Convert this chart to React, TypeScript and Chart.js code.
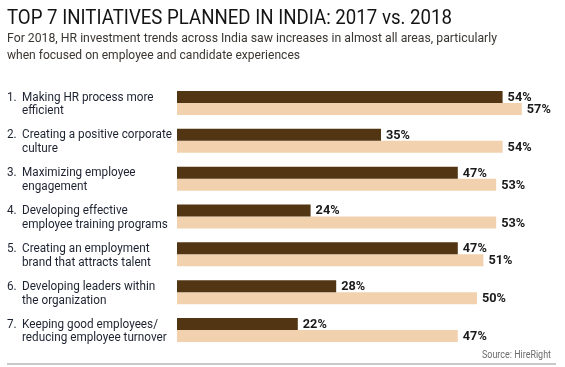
import React, { useEffect, useLayoutEffect, useRef } from "react";
import { Chart, registerables } from "chart.js";

Chart.register(...registerables);

const FONT = "Roboto, 'DejaVu Sans', sans-serif";

const titleText = "TOP 7 INITIATIVES PLANNED IN INDIA: 2017 vs. 2018";
const subtitleLines = [
  "For 2018, HR investment trends across India saw increases in almost all areas, particularly",
  "when focused on employee and candidate experiences",
];
const sourceText = "Source: HireRight";

const categories: string[][] = [
  ["Making HR process more", "efficient"],
  ["Creating a positive corporate", "culture"],
  ["Maximizing employee", "engagement"],
  ["Developing effective", "employee training programs"],
  ["Creating an employment", "brand that attracts talent"],
  ["Developing leaders within", "the organization"],
  ["Keeping good employees/", "reducing employee turnover"],
];
const seriesNames = ["2017", "2018"];
const values2017 = [54, 35, 47, 24, 47, 28, 22];
const values2018 = [57, 54, 53, 53, 51, 50, 47];
const axisMin = 3.125;
const axisMax = 60;

const COLOR_2017 = "#523614";
const COLOR_2018 = "#F2D2AE";

function drawScaled(ctx: CanvasRenderingContext2D, text: string, x: number, y: number, sx: number) {
  ctx.save();
  ctx.translate(x, y);
  ctx.scale(sx, 1);
  ctx.fillText(text, 0, 0);
  ctx.restore();
}

const labelsPlugin = {
  id: "customLabels",
  afterDatasetsDraw(chart: any) {
    const ctx: CanvasRenderingContext2D = chart.ctx;
    const yScale = chart.scales.y;
    ctx.save();
    // category labels
    ctx.font = `400 12.5px ${FONT}`;
    ctx.textAlign = "left";
    ctx.textBaseline = "alphabetic";
    ctx.fillStyle = "#1d2230";
    const ref = ctx.measureText("Creating a positive corporate").width;
    const sx = 150 / ref;
    categories.forEach((lines, i) => {
      const cy = yScale.getPixelForValue(i);
      drawScaled(ctx, `${i + 1}.`, 7, cy - 2.3, sx);
      drawScaled(ctx, lines[0], 22, cy - 2.3, sx);
      if (lines[1]) drawScaled(ctx, lines[1], 22, cy + 11.3, sx);
    });
    // value labels
    ctx.font = `700 12.5px ${FONT}`;
    ctx.fillStyle = "#1a1a1a";
    const vref = ctx.measureText("54%").width;
    const vsx = Math.min(1.1, 24 / vref);
    chart.data.datasets.forEach((ds: any, di: number) => {
      const meta = chart.getDatasetMeta(di);
      meta.data.forEach((el: any, i: number) => {
        drawScaled(ctx, `${ds.data[i]}%`, el.x + 5, el.y + 4, vsx);
      });
    });
    ctx.restore();
  },
};

function FitText(props: {
  text: string;
  left: number;
  baseline: number;
  size: number;
  width: number;
  color: string;
  weight?: number;
}) {
  const ref = useRef<HTMLSpanElement>(null);
  useLayoutEffect(() => {
    const el = ref.current;
    if (!el) return;
    el.style.transform = "none";
    const w = el.getBoundingClientRect().width;
    if (w > 0) el.style.transform = `scaleX(${props.width / w})`;
  }, [props.text, props.width, props.size]);
  const top = props.baseline - 0.8415 * props.size;
  return (
    <span
      ref={ref}
      style={{
        position: "absolute",
        left: props.left,
        top,
        fontSize: props.size,
        lineHeight: `${props.size}px`,
        fontFamily: FONT,
        fontWeight: props.weight ?? 400,
        color: props.color,
        whiteSpace: "nowrap",
        transformOrigin: "left top",
      }}
    >
      {props.text}
    </span>
  );
}

export default function App() {
  const canvasRef = useRef<HTMLCanvasElement>(null);

  useEffect(() => {
    const canvas = canvasRef.current;
    if (!canvas) return;
    const chart = new Chart(canvas, {
      type: "bar",
      data: {
        labels: categories.map((c) => c.join(" ")),
        datasets: [
          {
            label: seriesNames[0],
            data: values2017,
            backgroundColor: COLOR_2017,
            borderWidth: 0,
            clip: 0 as any,
          },
          {
            label: seriesNames[1],
            data: values2018,
            backgroundColor: COLOR_2018,
            borderWidth: 0,
            clip: 0 as any,
          },
        ],
      },
      options: {
        indexAxis: "y",
        animation: false,
        responsive: false,
        maintainAspectRatio: false,
        devicePixelRatio: 1,
        events: [],
        layout: { padding: { left: 177, right: 24, top: 84, bottom: 18 } },
        datasets: { bar: { categoryPercentage: 0.634, barPercentage: 1 } },
        scales: {
          x: { display: false, min: axisMin, max: axisMax },
          y: { display: false, offset: true },
        },
        plugins: {
          legend: { display: false },
          tooltip: { enabled: false },
          title: { display: false },
        },
      },
      plugins: [labelsPlugin],
    });
    return () => chart.destroy();
  }, []);

  return (
    <div
      style={{
        position: "fixed",
        left: 0,
        top: 0,
        width: 565,
        height: 367,
        background: "#ffffff",
        overflow: "hidden",
      }}
    >
      <canvas
        ref={canvasRef}
        width={565}
        height={367}
        style={{ position: "absolute", left: 0, top: 0, width: 565, height: 367 }}
      />
      <FitText text={titleText} left={7} baseline={25} size={21} width={445} color="#141414" />
      <FitText text={subtitleLines[0]} left={7} baseline={42} size={13} width={490} color="#3a3632" />
      <FitText text={subtitleLines[1]} left={7} baseline={59} size={13} width={293} color="#3a3632" />
      <FitText text={sourceText} left={482} baseline={358.5} size={10} width={69} color="#6b6b6b" />
      <div
        style={{
          position: "absolute",
          left: 7,
          top: 363,
          width: 549,
          height: 2,
          background: "#c9c9c9",
        }}
      />
    </div>
  );
}
